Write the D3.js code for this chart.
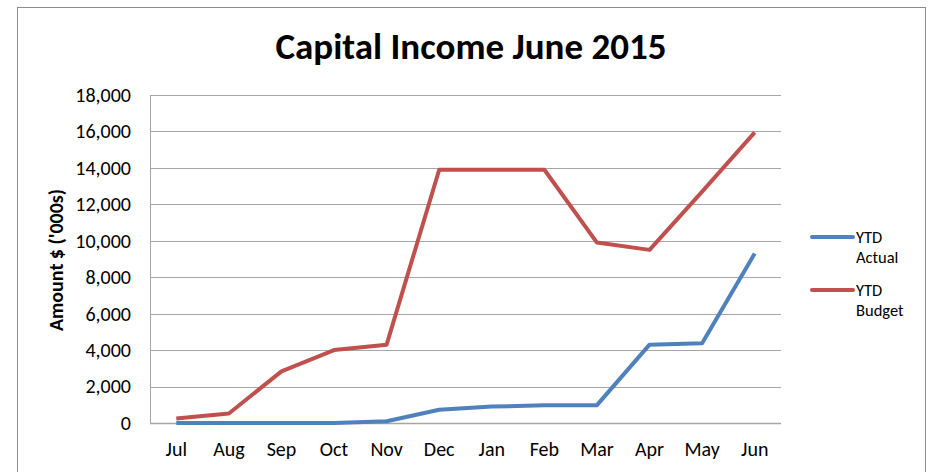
<!DOCTYPE html>
<html>
<head>
<meta charset="utf-8">
<script src="https://cdn.jsdelivr.net/npm/d3@7"></script>
<style>
  body { margin: 0; background: #fff; }
  text { font-family: Carlito, Calibri, "Open Sans", sans-serif; }
</style>
</head>
<body>
<div id="chart"></div>
<script>
const months = ["Jul", "Aug", "Sep", "Oct", "Nov", "Dec", "Jan", "Feb", "Mar", "Apr", "May", "Jun"];
const ytdActual = [0, 0, 0, 0, 100, 730, 900, 970, 980, 4300, 4380, 9300];
const ytdBudget = [250, 520, 2830, 4000, 4300, 13900, 13900, 13900, 9900, 9500, 12700, 15950];
const yTicks = [0, 2000, 4000, 6000, 8000, 10000, 12000, 14000, 16000, 18000];

const series = [
  { name: ["YTD", "Actual"], values: ytdActual, color: "#4f81bd" },
  { name: ["YTD", "Budget"], values: ytdBudget, color: "#c0504d" },
];

const WIDTH = 930;
const HEIGHT = 472;
const MARGIN = { LEFT: 150, RIGHT: 149, TOP: 95, BOTTOM: 49 };
const innerW = WIDTH - MARGIN.LEFT - MARGIN.RIGHT;
const innerH = HEIGHT - MARGIN.TOP - MARGIN.BOTTOM;

const svg = d3.select("#chart")
  .append("svg")
  .attr("width", WIDTH)
  .attr("height", HEIGHT);

// outer chart border
svg.append("rect")
  .attr("x", 17.5)
  .attr("y", 7.5)
  .attr("width", 908)
  .attr("height", 480)
  .attr("fill", "none")
  .attr("stroke", "#8c8c8c")
  .attr("stroke-width", 1);

svg.append("text")
  .attr("x", 471)
  .attr("y", 59)
  .attr("text-anchor", "middle")
  .style("font-size", "37px")
  .style("font-weight", "bold")
  .text("Capital Income June 2015");

const g = svg.append("g")
  .attr("transform", `translate(${MARGIN.LEFT}, ${MARGIN.TOP})`);

const x = d3.scaleBand(months, [0, innerW]);
const y = d3.scaleLinear([0, 18000], [innerH, 0]);

// gridlines
g.append("g")
  .selectAll("line")
  .data(yTicks)
  .join("line")
  .attr("x1", 0)
  .attr("x2", innerW)
  .attr("y1", (d) => Math.round(y(d)) + 0.5)
  .attr("y2", (d) => Math.round(y(d)) + 0.5)
  .attr("stroke", "#a6a6a6")
  .attr("stroke-width", (d) => (d === 0 ? 1.5 : 1));

const yAxis = g.append("g")
  .call(d3.axisLeft(y).tickValues(yTicks).tickFormat(d3.format(",")).tickSize(0).tickPadding(19));
yAxis.select(".domain").attr("stroke", "#a6a6a6").attr("d", `M0.5,0V${innerH}`);
yAxis.selectAll("text").style("font-size", "20px").attr("fill", "#000");

const xAxis = g.append("g")
  .attr("transform", `translate(0, ${innerH})`)
  .call(d3.axisBottom(x).tickSize(0).tickPadding(19));
xAxis.select(".domain").remove();
xAxis.selectAll("text").style("font-size", "20px").attr("fill", "#000");

svg.append("text")
  .attr("transform", "rotate(-90)")
  .attr("x", -260)
  .attr("y", 63)
  .attr("text-anchor", "middle")
  .style("font-size", "20px")
  .style("font-weight", "bold")
  .text("Amount $ ('000s)");

const line = d3.line()
  .x((d, i) => x(months[i]) + x.bandwidth() / 2)
  .y((d) => y(d));

g.selectAll(".series")
  .data(series)
  .join("path")
  .attr("class", "series")
  .attr("d", (d) => line(d.values))
  .attr("fill", "none")
  .attr("stroke", (d) => d.color)
  .attr("stroke-width", 4)
  .attr("stroke-linejoin", "round");

// legend
const legend = svg.append("g")
  .attr("transform", "translate(812, 237)")
  .selectAll("g")
  .data(series)
  .join("g")
  .attr("transform", (d, i) => `translate(0, ${i * 53})`);

legend.append("line")
  .attr("x1", 0)
  .attr("x2", 41)
  .attr("stroke", (d) => d.color)
  .attr("stroke-width", 4)
  .attr("stroke-linecap", "round");

legend.append("text")
  .attr("y", 6)
  .style("font-size", "16.5px")
  .selectAll("tspan")
  .data((d) => d.name)
  .join("tspan")
  .attr("x", 44)
  .attr("dy", (d, i) => (i === 0 ? 0 : 20))
  .text((d) => d);
</script>
</body>
</html>
